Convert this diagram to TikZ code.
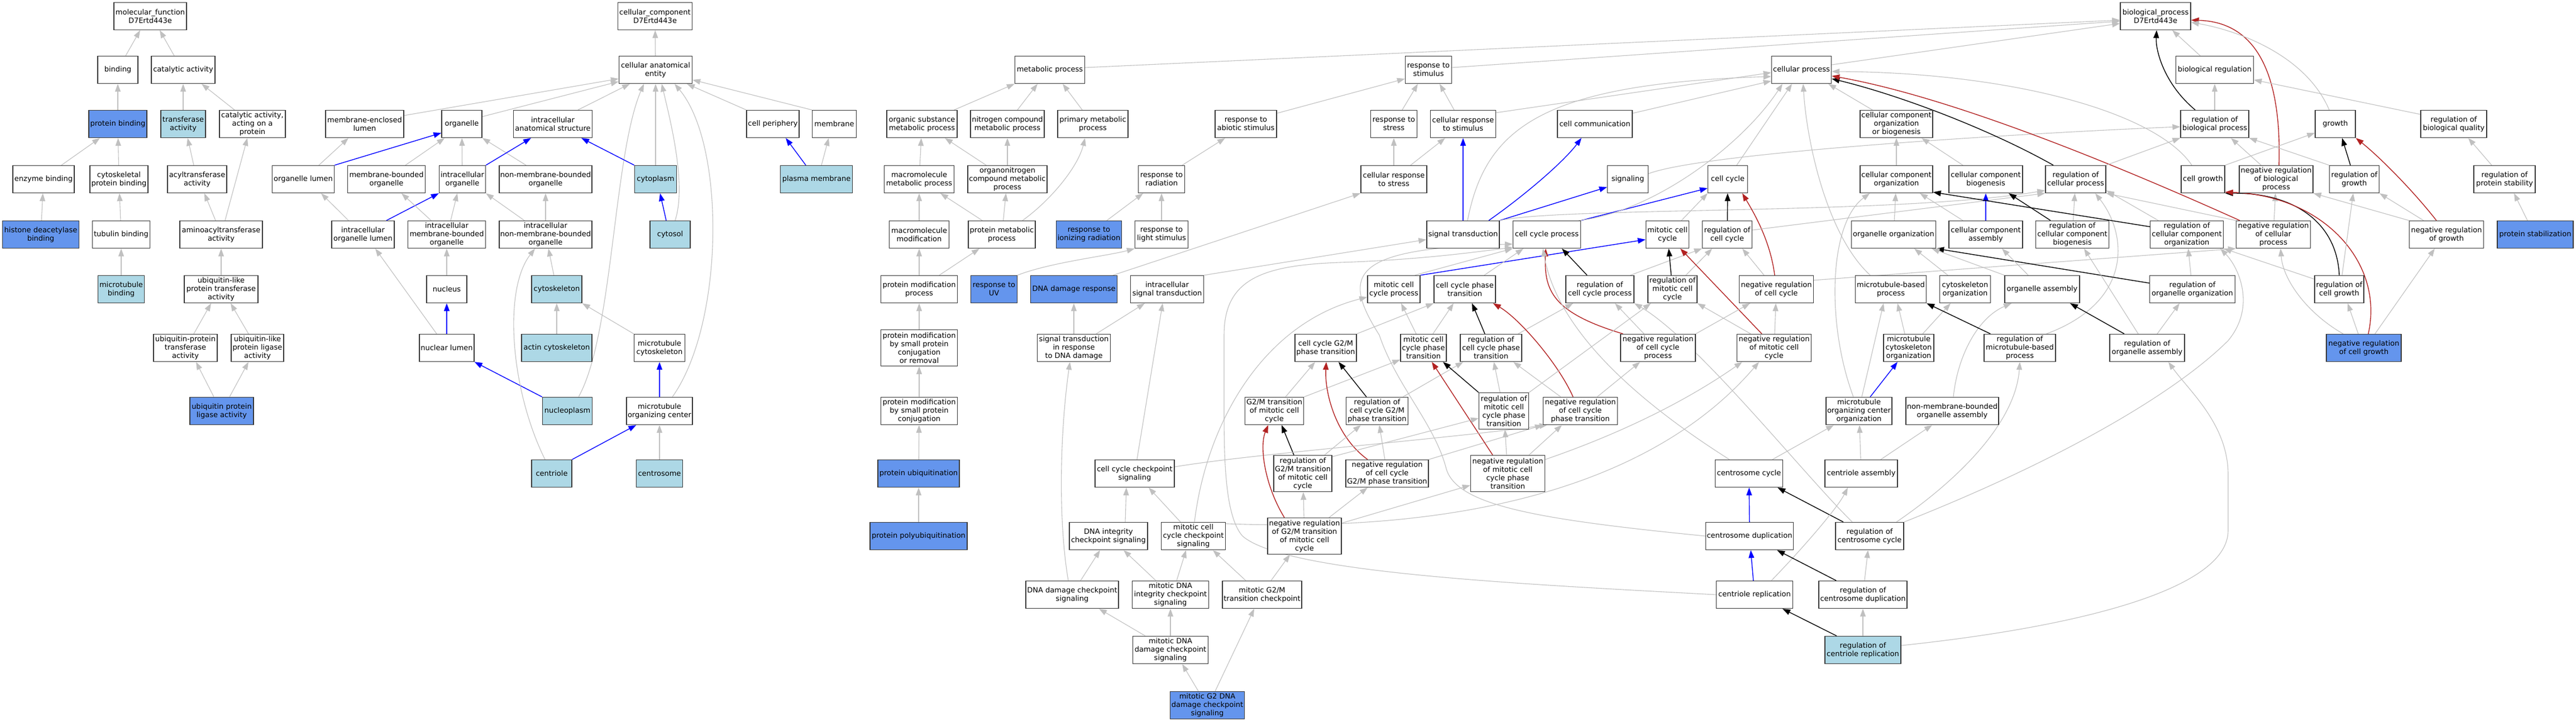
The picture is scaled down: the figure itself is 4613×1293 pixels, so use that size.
\documentclass[tikz,border=0pt]{standalone}
\usepackage{fontspec}
\setmainfont{DejaVu Sans}
\usetikzlibrary{arrows.meta}
\definecolor{egray}{RGB}{192,192,192}
\definecolor{lbfill}{RGB}{173,216,230}
\definecolor{cbfill}{RGB}{100,149,237}
\definecolor{fred}{RGB}{178,34,34}
\definecolor{nborder}{RGB}{55,55,55}
\pgfdeclarelayer{bgl}
\pgfdeclarelayer{edl}
\pgfsetlayers{bgl,edl,main}
\tikzset{
 nd/.style={draw=nborder, line width=1.3pt, fill=white, minimum height=49pt, inner xsep=2pt, inner ysep=1.5pt, align=center, font=\fontsize{13}{15}\selectfont},
 lbn/.style={nd, fill=lbfill},
 cbn/.style={nd, fill=cbfill},
 tallnd/.style={minimum height=65pt},
 ahd/.style={-{Triangle[length=14pt,width=10pt]}},
 egr/.style={draw=egray, line width=1.1pt, ahd},
 eblu/.style={draw=blue, line width=1.4pt, ahd},
 eblk/.style={draw=black, line width=1.4pt, ahd},
 ered/.style={draw=fred, line width=1.4pt, ahd}
}
\begin{document}
\begin{tikzpicture}[x=1pt,y=-1pt]
\useasboundingbox (0,0) rectangle (4613,1293);
\begin{pgfonlayer}{bgl}
\fill[white] (0,0) rectangle (4613,1293);
\end{pgfonlayer}
% ---------- row 0
\node[nd,minimum width=130pt] (mf) at (269,29) {molecular\_function\\D7Ertd443e};
\node[nd,minimum width=133pt] (cc) at (1173,29) {cellular\_component\\D7Ertd443e};
\node[nd,minimum width=126pt] (bp) at (3860,29) {biological\_process\\D7Ertd443e};
% ---------- row 1
\node[nd,minimum width=72pt] (binding) at (211,125) {binding};
\node[nd,minimum width=114pt] (catact) at (328,125) {catalytic activity};
\node[nd,minimum width=131pt] (cae) at (1174,125) {cellular anatomical\\entity};
\node[nd,minimum width=125pt] (metab) at (1880,125) {metabolic process};
\node[nd,minimum width=83pt] (respstim) at (2558,125) {response to\\stimulus};
\node[nd,minimum width=107pt] (cellproc) at (3226,125) {cellular process};
\node[nd,minimum width=139pt] (bioreg) at (3966,125) {biological regulation};
% ---------- row 2
\node[cbn,minimum width=104pt] (protbind) at (211,222) {protein binding};
\node[lbn,minimum width=80pt] (transf) at (328,222) {transferase\\activity};
\node[nd,minimum width=118pt] (catprot) at (452,222) {catalytic activity,\\acting on a\\protein};
\node[nd,minimum width=140pt] (memlumen) at (653,222) {membrane-enclosed\\lumen};
\node[nd,minimum width=72pt] (organelle) at (827,222) {organelle};
\node[nd,minimum width=141pt] (intraanat) at (990,222) {intracellular\\anatomical structure};
\node[nd,minimum width=94pt] (cellper) at (1384,222) {cell periphery};
\node[nd,minimum width=79pt] (membrane) at (1494,222) {membrane};
\node[nd,minimum width=126pt] (orgsub) at (1651,222) {organic substance\\metabolic process};
\node[nd,minimum width=132pt] (nitro) at (1804,222) {nitrogen compound\\metabolic process};
\node[nd,minimum width=126pt] (primary) at (1957,222) {primary metabolic\\process};
\node[nd,minimum width=110pt] (abiotic) at (2231,222) {response to\\abiotic stimulus};
\node[nd,minimum width=83pt] (respstress) at (2496,222) {response to\\stress};
\node[nd,minimum width=117pt] (cellrespstim) at (2620,222) {cellular response\\to stimulus};
\node[nd,minimum width=134pt] (cellcomm) at (2856,222) {cell communication};
\node[nd,minimum width=130pt] (ccob) at (3396,222) {cellular component\\organization\\or biogenesis};
\node[nd,minimum width=122pt] (regbio) at (3966,222) {regulation of\\biological process};
\node[nd,minimum width=72pt] (growth) at (4182,222) {growth};
\node[nd,minimum width=118pt] (regbioqual) at (4394,222) {regulation of\\biological quality};
% ---------- row 3
\node[nd,minimum width=110pt] (enzbind) at (78,321) {enzyme binding};
\node[nd,minimum width=104pt] (cytoprotbind) at (213,321) {cytoskeletal\\protein binding};
\node[nd,minimum width=106pt] (acyl) at (353,321) {acyltransferase\\activity};
\node[nd,minimum width=111pt] (orglumen) at (543,321) {organelle lumen};
\node[nd,minimum width=139pt] (mbo) at (692,321) {membrane-bounded\\organelle};
\node[nd,minimum width=83pt] (intraorg) at (828,321) {intracellular\\organelle};
\node[nd,minimum width=166pt] (nmbo) at (977,321) {non-membrane-bounded\\organelle};
\node[lbn,minimum width=75pt] (cytoplasm) at (1174,321) {cytoplasm};
\node[lbn,minimum width=129pt] (plasmamem) at (1462,321) {plasma membrane};
\node[nd,minimum width=125pt] (macromet) at (1646,321) {macromolecule\\metabolic process};
\node[nd,minimum width=142pt] (orgnitro) at (1804,321) {organonitrogen\\compound metabolic\\process};
\node[nd,minimum width=83pt] (radiation) at (2080,321) {response to\\radiation};
\node[nd,minimum width=118pt] (cellrespstress) at (2496,321) {cellular response\\to stress};
\node[nd,minimum width=73pt] (signaling) at (2915,321) {signaling};
\node[nd,minimum width=71pt] (cellcycle) at (3094,321) {cell cycle};
\node[nd,minimum width=130pt] (cco) at (3396,321) {cellular component\\organization};
\node[nd,minimum width=132pt] (ccbio) at (3556,321) {cellular component\\biogenesis};
\node[nd,minimum width=108pt] (regcellproc) at (3717,321) {regulation of\\cellular process};
\node[nd,minimum width=78pt] (cellgrowth) at (3945,321) {cell growth};
\node[nd,minimum width=132pt] (negregbio) at (4076,321) {negative regulation\\of biological\\process};
\node[nd,minimum width=89pt] (reggrowth) at (4216,321) {regulation of\\growth};
\node[nd,minimum width=110pt] (regprotstab) at (4485,321) {regulation of\\protein stability};
% ---------- row 4
\node[cbn,minimum width=137pt] (histone) at (73,420) {histone deacetylase\\binding};
\node[nd,minimum width=103pt] (tubbind) at (217,420) {tubulin binding};
\node[nd,minimum width=148pt] (aminoacyl) at (396,420) {aminoacyltransferase\\activity};
\node[nd,minimum width=112pt] (intraorglumen) at (650,420) {intracellular\\organelle lumen};
\node[nd,minimum width=139pt] (imbo) at (800,420) {intracellular\\membrane-bounded\\organelle};
\node[nd,minimum width=166pt] (inmbo) at (977,420) {intracellular\\non-membrane-bounded\\organelle};
\node[lbn,minimum width=72pt] (cytosol) at (1200,420) {cytosol};
\node[nd,minimum width=107pt] (macromod) at (1646,420) {macromolecule\\modification};
\node[nd,minimum width=120pt] (protmet) at (1794,420) {protein metabolic\\process};
\node[cbn,minimum width=117pt] (ionizing) at (1950,420) {response to\\ionizing radiation};
\node[nd,minimum width=95pt] (light) at (2080,420) {response to\\light stimulus};
\node[nd,minimum width=130pt] (sigtrans) at (2620,420) {signal transduction};
\node[nd,minimum width=121pt] (ccproc) at (2770,420) {cell cycle process};
\node[nd,minimum width=77pt] (mitcc) at (2986,420) {mitotic cell\\cycle};
\node[nd,minimum width=89pt] (regcc) at (3093,420) {regulation of\\cell cycle};
\node[nd,minimum width=151pt] (orgorg) at (3391,420) {organelle organization};
\node[nd,minimum width=132pt] (ccassem) at (3556,420) {cellular component\\assembly};
\node[nd,minimum width=131pt] (regccbio) at (3711,420) {regulation of\\cellular component\\biogenesis};
\node[nd,minimum width=131pt] (regcco) at (3916,420) {regulation of\\cellular component\\organization};
\node[nd,minimum width=133pt] (negregcell) at (4071,420) {negative regulation\\of cellular\\process};
\node[nd,minimum width=133pt] (negreggrowth) at (4381,420) {negative regulation\\of growth};
\node[cbn,minimum width=136pt] (protstab) at (4540,420) {protein stabilization};
% ---------- row 5
\node[lbn,minimum width=83pt] (mtbind) at (217,518) {microtubule\\binding};
\node[nd,minimum width=132pt] (ublptrans) at (396,518) {ubiquitin-like\\protein transferase\\activity};
\node[nd,minimum width=72pt] (nucleus) at (800,518) {nucleus};
\node[lbn,minimum width=90pt] (cytoskel) at (997,518) {cytoskeleton};
\node[nd,minimum width=137pt] (protmodproc) at (1646,518) {protein modification\\process};
\node[cbn,minimum width=83pt] (uv) at (1780,518) {response to\\UV};
\node[cbn,minimum width=155pt] (dnadam) at (1923,518) {DNA damage response};
\node[nd,minimum width=131pt] (intrasig) at (2090,518) {intracellular\\signal transduction};
\node[nd,minimum width=94pt] (mitccproc) at (2496,518) {mitotic cell\\cycle process};
\node[nd,minimum width=110pt] (ccphase) at (2623,518) {cell cycle phase\\transition};
\node[nd,minimum width=122pt] (regccproc) at (2865,518) {regulation of\\cell cycle process};
\node[nd,minimum width=88pt] (regmitcc) at (2995,518) {regulation of\\mitotic cell\\cycle};
\node[nd,minimum width=133pt] (negregcc) at (3181,518) {negative regulation\\of cell cycle};
\node[nd,minimum width=127pt] (mtbased) at (3386,518) {microtubule-based\\process};
\node[nd,minimum width=91pt] (cytoskelorg) at (3519,518) {cytoskeleton\\organization};
\node[nd,minimum width=134pt] (orgassem) at (3657,518) {organelle assembly};
\node[nd,minimum width=153pt] (regorgorg) at (3926,518) {regulation of\\organelle organization};
\node[nd,minimum width=88pt] (regcellgrowth) at (4189,518) {regulation of\\cell growth};
% ---------- row 6
\node[nd,minimum width=114pt] (ubprottrans) at (332,623) {ubiquitin-protein\\transferase\\activity};
\node[nd,minimum width=94pt] (ubligase) at (461,623) {ubiquitin-like\\protein ligase\\activity};
\node[nd,minimum width=98pt] (nuclumen) at (800,623) {nuclear lumen};
\node[lbn,minimum width=126pt] (actin) at (997,623) {actin cytoskeleton};
\node[nd,minimum width=91pt] (mtcyto) at (1181,623) {microtubule\\cytoskeleton};
\node[nd,tallnd,minimum width=137pt] (protmodsmall) at (1646,623) {protein modification\\by small protein\\conjugation\\or removal};
\node[nd,minimum width=131pt] (sigdna) at (1923,623) {signal transduction\\in response\\to DNA damage};
\node[nd,minimum width=110pt] (g2mphase) at (2374,623) {cell cycle G2/M\\phase transition};
\node[nd,minimum width=82pt] (mitccphase) at (2549,623) {mitotic cell\\cycle phase\\transition};
\node[nd,minimum width=110pt] (regccphase) at (2670,623) {regulation of\\cell cycle phase\\transition};
\node[nd,minimum width=134pt] (negregccproc) at (2969,623) {negative regulation\\of cell cycle\\process};
\node[nd,minimum width=133pt] (negregmitcc) at (3177,623) {negative regulation\\of mitotic cell\\cycle};
\node[nd,minimum width=90pt] (mtcytoorg) at (3418,623) {microtubule\\cytoskeleton\\organization};
\node[nd,minimum width=128pt] (regmtbased) at (3617,623) {regulation of\\microtubule-based\\process};
\node[nd,minimum width=134pt] (regorgassem) at (3845,623) {regulation of\\organelle assembly};
\node[cbn,minimum width=134pt] (negregcellgrowth) at (4233,623) {negative regulation\\of cell growth};
% ---------- row 7
\node[cbn,minimum width=114pt] (ubprotligase) at (397,736) {ubiquitin protein\\ligase activity};
\node[lbn,minimum width=89pt] (nucleoplasm) at (1016,736) {nucleoplasm};
\node[nd,minimum width=118pt] (mtoc) at (1181,736) {microtubule\\organizing center};
\node[nd,minimum width=137pt] (protmodconj) at (1646,736) {protein modification\\by small protein\\conjugation};
\node[nd,minimum width=105pt] (g2mmit) at (2282,736) {G2/M transition\\of mitotic cell\\cycle};
\node[nd,minimum width=111pt] (regccg2m) at (2466,736) {regulation of\\cell cycle G2/M\\phase transition};
\node[nd,tallnd,minimum width=89pt] (regmitccphase) at (2693,736) {regulation of\\mitotic cell\\cycle phase\\transition};
\node[nd,minimum width=133pt] (negregccphase) at (2830,736) {negative regulation\\of cell cycle\\phase transition};
\node[nd,minimum width=118pt] (mtocorg) at (3329,736) {microtubule\\organizing center\\organization};
\node[nd,minimum width=166pt] (nmboassem) at (3496,736) {non-membrane-bounded\\organelle assembly};
% ---------- row 8
\node[lbn,minimum width=72pt] (centriole) at (988,848) {centriole};
\node[lbn,minimum width=83pt] (centrosome) at (1181,848) {centrosome};
\node[cbn,minimum width=146pt] (protubiq) at (1645,848) {protein ubiquitination};
\node[nd,minimum width=142pt] (ccchk) at (2032,848) {cell cycle checkpoint\\signaling};
\node[nd,tallnd,minimum width=104pt] (regg2mmit) at (2333,848) {regulation of\\G2/M transition\\of mitotic cell\\cycle};
\node[nd,minimum width=148pt] (negregccg2m) at (2484,848) {negative regulation\\of cell cycle\\G2/M phase transition};
\node[nd,tallnd,minimum width=133pt] (negregmitccphase) at (2700,848) {negative regulation\\of mitotic cell\\cycle phase\\transition};
\node[nd,minimum width=121pt] (centcycle) at (3132,848) {centrosome cycle};
\node[nd,minimum width=130pt] (centassem) at (3333,848) {centriole assembly};
% ---------- row 9
\node[cbn,minimum width=174pt] (polyubiq) at (1645,960) {protein polyubiquitination};
\node[nd,minimum width=140pt] (dnaintchk) at (1985,960) {DNA integrity\\checkpoint signaling};
\node[nd,minimum width=115pt] (mitccchk) at (2137,960) {mitotic cell\\cycle checkpoint\\signaling};
\node[nd,tallnd,minimum width=132pt] (negregg2mmit) at (2336,960) {negative regulation\\of G2/M transition\\of mitotic cell\\cycle};
\node[nd,minimum width=157pt] (centdup) at (3133,960) {centrosome duplication};
\node[nd,minimum width=122pt] (regcentcycle) at (3348,960) {regulation of\\centrosome cycle};
% ---------- row 10
\node[nd,minimum width=166pt] (dnadamchk) at (1920,1065) {DNA damage checkpoint\\signaling};
\node[nd,minimum width=137pt] (mitdnaintchk) at (2096,1065) {mitotic DNA\\integrity checkpoint\\signaling};
\node[nd,minimum width=142pt] (mitg2mchk) at (2260,1065) {mitotic G2/M\\transition checkpoint};
\node[nd,minimum width=137pt] (centrep) at (3142,1065) {centriole replication};
\node[nd,minimum width=158pt] (regcentdup) at (3336,1065) {regulation of\\centrosome duplication};
% ---------- row 11
\node[nd,minimum width=135pt] (mitdnadamchk) at (2096,1164) {mitotic DNA\\damage checkpoint\\signaling};
\node[lbn,minimum width=136pt] (regcentrep) at (3336,1164) {regulation of\\centriole replication};
% ---------- row 12
\node[cbn,minimum width=133pt] (mitg2dnadam) at (2162,1263) {mitotic G2 DNA\\damage checkpoint\\signaling};

\begin{pgfonlayer}{edl}
% ===== molecular function
\draw[egr] ([xshift=14pt]binding.north) -- ([xshift=-18pt]mf.south);
\draw[egr] ([xshift=-16pt]catact.north) -- ([xshift=17pt]mf.south);
\draw[egr] (protbind) -- (binding);
\draw[egr] (transf) -- (catact);
\draw[egr] ([xshift=-32pt]catprot.north) -- ([xshift=33pt]catact.south);
\draw[egr] ([xshift=32pt]enzbind.north) -- ([xshift=-32pt]protbind.south);
\draw[egr] (cytoprotbind) -- (protbind);
\draw[egr] ([xshift=-6pt]acyl.north) -- ([xshift=8pt]transf.south);
\draw[egr] (histone) -- (enzbind);
\draw[egr] (tubbind) -- (cytoprotbind);
\draw[egr] ([xshift=-10pt]aminoacyl.north) -- ([xshift=13pt]acyl.south);
\draw[egr] ([xshift=7pt]aminoacyl.north) -- ([xshift=-9pt]catprot.south);
\draw[egr] (mtbind) -- (tubbind);
\draw[egr] (ublptrans) -- (aminoacyl);
\draw[egr] ([xshift=15pt]ubprottrans.north) -- ([xshift=-18pt]ublptrans.south);
\draw[egr] ([xshift=-16pt]ubligase.north) -- ([xshift=17pt]ublptrans.south);
\draw[egr] ([xshift=-14pt]ubprotligase.north) -- ([xshift=19pt]ubprottrans.south);
\draw[egr] ([xshift=14pt]ubprotligase.north) -- ([xshift=-16pt]ubligase.south);
% ===== cellular component
\draw[egr] (cae) -- (cc);
\draw[egr] ([yshift=-10pt]memlumen.north east) -- ([yshift=-16pt]cae.west);
\draw[egr] ([yshift=-12pt]organelle.north east) -- ([yshift=-21pt]cae.west);
\draw[egr] ([xshift=45pt]intraanat.north) -- ([xshift=-46pt]cae.south);
\draw[egr] (cytoplasm) -- (cae);
\draw[egr] (cellper.north west) -- ([xshift=56pt]cae.south);
\draw[egr] (membrane.north west) -- ([yshift=-18pt]cae.east);
\draw[egr] ([xshift=9pt]cytosol.north) .. controls (1230,330) and (1200,215) .. ([xshift=11pt]cae.south);
\draw[egr] ([xshift=20pt]nucleoplasm.north) .. controls (1098,600) and (1098,280) .. ([xshift=-21pt]cae.south);
\draw[egr] ([xshift=23pt]mtoc.north) .. controls (1297,580) and (1300,260) .. ([xshift=34pt]cae.south);
\draw[egr] ([xshift=28pt]orglumen.north) -- ([xshift=-29pt]memlumen.south);
\draw[eblu] (orglumen.north east) -- ([yshift=-16pt]organelle.west);
\draw[egr] ([xshift=34pt]mbo.north) -- ([xshift=6pt]organelle.south west);
\draw[egr] (intraorg) -- (organelle);
\draw[egr] ([xshift=-35pt]nmbo.north) -- (organelle.south east);
\draw[eblu] (intraorg.north east) -- ([xshift=-39pt]intraanat.south);
\draw[eblu] (cytoplasm.north west) -- ([xshift=51pt]intraanat.south);
\draw[eblu] ([xshift=-19pt]plasmamem.north) -- ([xshift=23pt]cellper.south);
\draw[egr] ([xshift=9pt]plasmamem.north) -- ([xshift=-10pt]membrane.south);
\draw[egr] ([xshift=-26pt]intraorglumen.north) -- ([xshift=32pt]orglumen.south);
\draw[eblu] ([xshift=42pt]intraorglumen.north) -- (intraorg.south west);
\draw[egr] ([xshift=-28pt]imbo.north) -- ([xshift=27pt]mbo.south);
\draw[egr] ([xshift=7pt]imbo.north) -- ([xshift=-9pt]intraorg.south);
\draw[egr] ([xshift=-38pt]inmbo.north) -- (intraorg.south east);
\draw[egr] (inmbo) -- (nmbo);
\draw[eblu] ([xshift=-7pt]cytosol.north) -- ([xshift=8pt]cytoplasm.south);
\draw[egr] (nucleus) -- (imbo);
\draw[egr] (cytoskel) -- (inmbo);
\draw[eblu] (nuclumen) -- (nucleus);
\draw[egr] ([xshift=-18pt]nuclumen.north) -- ([xshift=22pt]intraorglumen.south);
\draw[egr] (actin) -- (cytoskel);
\draw[egr] (mtcyto.north west) -- (cytoskel.south east);
\draw[eblu] (nucleoplasm.north west) -- (nuclumen.south east);
\draw[eblu] (mtoc) -- (mtcyto);
\draw[eblu] (centriole.north east) -- ([xshift=18pt]mtoc.south west);
\draw[egr] (centrosome) -- (mtoc);
\draw[egr] ([xshift=-12pt]centriole.north) .. controls (915,700) and (900,520) .. ([xshift=-19pt]inmbo.south);
% ===== metabolic
\draw[egr] ([yshift=4pt]metab.east) -- ([yshift=-7pt]bp.west);
\draw[egr] ([xshift=-6pt]orgsub.north east) -- (metab.south west);
\draw[egr] ([xshift=18pt]nitro.north) -- ([xshift=-22pt]metab.south);
\draw[egr] ([xshift=-19pt]primary.north) -- ([xshift=23pt]metab.south);
\draw[egr] (macromet) -- (orgsub);
\draw[egr] ([xshift=-38pt]orgnitro.north) -- ([xshift=41pt]orgsub.south);
\draw[egr] (orgnitro) -- (nitro);
\draw[egr] (macromod) -- (macromet);
\draw[egr] ([xshift=-35pt]protmet.north) -- ([xshift=38pt]macromet.south);
\draw[egr] (protmet) -- (orgnitro);
\draw[egr] ([xshift=37pt]protmet.north) .. controls (1880,360) and (1930,300) .. ([xshift=-14pt]primary.south);
\draw[egr] (protmodproc) -- (macromod);
\draw[egr] ([xshift=36pt]protmodproc.north) -- ([xshift=-40pt]protmet.south);
\draw[egr] (protmodsmall) -- (protmodproc);
\draw[egr] (protmodconj) -- (protmodsmall);
\draw[egr] (protubiq) -- (protmodconj);
\draw[egr] (polyubiq) -- (protubiq);
% ===== stimulus
\draw[egr] ([yshift=4pt]respstim.east) -- ([yshift=-9pt]bp.west);
\draw[egr] ([yshift=-6pt]abiotic.north east) -- ([yshift=-16pt]respstim.west);
\draw[egr] ([xshift=15pt]respstress.north) -- ([xshift=-19pt]respstim.south);
\draw[egr] ([xshift=-16pt]cellrespstim.north) -- ([xshift=20pt]respstim.south);
\draw[egr] ([yshift=-5pt]cellrespstim.north east) -- ([yshift=-5pt]cellproc.west);
\draw[egr] ([xshift=37pt]radiation.north) -- ([xshift=-37pt]abiotic.south);
\draw[egr] (cellrespstress) -- (respstress);
\draw[egr] ([xshift=30pt]cellrespstress.north) -- ([xshift=-32pt]cellrespstim.south);
\draw[egr] ([xshift=32pt]ionizing.north) -- ([xshift=-33pt]radiation.south);
\draw[egr] (light) -- (radiation);
\draw[egr] (uv.north east) .. controls (1880,470) and (1985,458) .. (light.south west);
\draw[egr] ([xshift=-8pt]dnadam.north east) -- (cellrespstress.south west);
\draw[egr] (sigdna) -- (dnadam);
\draw[egr] ([xshift=40pt]sigdna.north) -- ([xshift=-40pt]intrasig.south);
\draw[egr] (intrasig.north east) -- ([yshift=-9pt]sigtrans.west);
\draw[egr] ([xshift=4pt]ccchk.north) -- ([xshift=-8pt]intrasig.south);
\draw[egr] ([xshift=-7pt]dnadamchk.north) .. controls (1893,920) and (1900,760) .. ([xshift=-7pt]sigdna.south);
% ===== signalling
\draw[eblu] (sigtrans) -- (cellrespstim);
\draw[eblu] ([xshift=46pt]sigtrans.north) .. controls (2730,350) and (2800,290) .. ([xshift=-24pt]cellcomm.south);
\draw[eblu] (sigtrans.north east) -- ([yshift=-14pt]signaling.west);
\draw[egr] ([xshift=8pt]sigtrans.north) .. controls (2660,230) and (2760,150) .. ([yshift=-12pt]cellproc.west);
\draw[egr] (sigtrans.north east) .. controls (2800,370) and (3400,385) .. ([yshift=-20pt]regcellproc.west);
\draw[egr] ([yshift=-6pt]cellcomm.north east) -- ([yshift=-20pt]cellproc.west);
\draw[egr] ([yshift=10pt]signaling.east) .. controls (3060,270) and (3700,235) .. ([yshift=-5pt]regbio.west);
% ===== cell cycle
\draw[eblu] (ccproc.north east) -- ([yshift=-16pt]cellcycle.west);
\draw[egr] ([xshift=-4pt]ccproc.north east) .. controls (2960,380) and (3120,260) .. ([xshift=-34pt]cellproc.south);
\draw[egr] ([xshift=25pt]mitcc.north) -- (cellcycle.south west);
\draw[eblu] (mitccproc.north east) -- ([yshift=-9pt]mitcc.west);
\draw[egr] ([xshift=-10pt]mitccproc.north east) -- (ccproc.south west);
\draw[egr] ([xshift=35pt]ccphase.north) -- ([xshift=-42pt]ccproc.south);
\draw[eblk] ([xshift=-23pt]regccproc.north) -- ([xshift=27pt]ccproc.south);
\draw[ered] ([xshift=5pt]negregccproc.north west) .. controls (2780,560) and (2765,520) .. ([xshift=-2pt]ccproc.south);
\draw[egr] (centdup.west) .. controls (2750,930) and (2610,905) .. (2590,840) .. controls (2570,760) and (2500,690) .. (2470,600) .. controls (2400,490) and (2420,445) .. ([yshift=8pt]ccproc.south west);
\draw[egr] (centrep.west) .. controls (2700,1045) and (2300,1025) .. (2225,960) .. controls (2190,920) and (2192,800) .. (2192,700) -- (2192,600) .. controls (2192,500) and (2260,475) .. (2400,470) .. controls (2550,465) and (2650,450) .. ([yshift=2pt]ccproc.south west);
\draw[egr] ([xshift=26pt]centcycle.north west) .. controls (2950,730) and (2790,600) .. ([xshift=-7pt]ccproc.south);
\draw[eblk] (regcc) -- (cellcycle);
\draw[ered] ([xshift=-3pt]negregcc.north) .. controls (3170,430) and (3140,380) .. ([xshift=26pt]cellcycle.south);
\draw[egr] ([xshift=-22pt]negregcc.north) -- ([xshift=27pt]regcc.south);
\draw[egr] ([xshift=-7pt]regccproc.north east) -- (regcc.south west);
\draw[egr] ([xshift=24pt]regmitcc.north) -- ([xshift=-27pt]regcc.south);
\draw[eblk] (regmitcc) -- (mitcc);
\draw[ered] ([xshift=-22pt]negregmitcc.north) -- ([xshift=23pt]mitcc.south);
\draw[egr] (negregmitcc) -- (negregcc);
\draw[egr] ([xshift=-42pt]negregmitcc.north) -- (regmitcc.south east);
\draw[egr] ([yshift=8pt]regcc.east) -- (regcellproc.south west);
\draw[egr] ([yshift=-9pt]negregcc.north east) -- (negregcell.south west);
\draw[egr] ([xshift=-25pt]negregccproc.north) -- ([xshift=27pt]regccproc.south);
\draw[egr] (negregccproc.north east) -- ([xshift=20pt]negregcc.south west);
\draw[egr] ([xshift=-7pt]regccphase.north east) -- ([xshift=-48pt]regccproc.south);
\draw[egr] ([xshift=-31pt]regcentcycle.north) .. controls (3230,850) and (3040,610) .. (regccproc.south east);
% ===== phase transitions
\draw[egr] (g2mphase.north east) -- (ccphase.south west);
\draw[egr] ([xshift=17pt]mitccphase.north) -- ([xshift=-20pt]ccphase.south);
\draw[egr] ([xshift=-13pt]mitccphase.north) -- ([xshift=13pt]mitccproc.south);
\draw[eblk] ([xshift=-11pt]regccphase.north) -- ([xshift=13pt]ccphase.south);
\draw[ered] ([xshift=-13pt]negregccphase.north) .. controls (2790,650) and (2720,570) .. ([xshift=-5pt]ccphase.south east);
\draw[egr] ([xshift=20pt]g2mmit.north) -- ([xshift=-19pt]g2mphase.south);
\draw[egr] (g2mmit.north east) -- ([yshift=4pt]mitccphase.south west);
\draw[eblk] ([xshift=-19pt]regccg2m.north) -- ([xshift=23pt]g2mphase.south);
\draw[egr] ([xshift=-10pt]regccg2m.north east) -- ([xshift=6pt]regccphase.south west);
\draw[ered] ([xshift=-35pt]negregccg2m.north) .. controls (2390,780) and (2372,700) .. ([xshift=1pt]g2mphase.south);
\draw[egr] (negregccg2m) -- (regccg2m);
\draw[egr] (negregccg2m.north east) -- (negregccphase.south west);
\draw[eblk] (regmitccphase.north west) -- ([xshift=35pt]mitccphase.south);
\draw[egr] (regmitccphase) -- (regccphase);
\draw[egr] (regmitccphase.north east) -- ([xshift=6pt]regmitcc.south west);
\draw[egr] ([xshift=-35pt]negregccphase.north) -- ([xshift=40pt]regccphase.south);
\draw[egr] ([xshift=30pt]negregccphase.north) -- ([xshift=-32pt]negregccproc.south);
\draw[ered] ([xshift=-27pt]negregmitccphase.north) -- ([xshift=15pt]mitccphase.south);
\draw[egr] (negregmitccphase) -- (regmitccphase);
\draw[egr] ([xshift=38pt]negregmitccphase.north) -- ([xshift=-33pt]negregccphase.south);
\draw[egr] ([yshift=-8pt]negregmitccphase.north east) .. controls (2950,760) and (3060,690) .. ([xshift=10pt]negregmitcc.south west);
\draw[egr] ([yshift=-3pt]mitccchk.north east) .. controls (2760,960) and (3020,800) .. ([xshift=-27pt]negregmitcc.south);
\draw[egr] ([xshift=2pt]mitccchk.north) .. controls (2160,760) and (2260,580) .. ([yshift=-14pt]mitccproc.west);
\draw[eblk] ([xshift=-16pt]regg2mmit.north) -- ([xshift=13pt]g2mmit.south);
\draw[egr] ([xshift=39pt]regg2mmit.north) -- ([xshift=-29pt]regccg2m.south);
\draw[egr] ([yshift=-3pt]regg2mmit.north east) -- ([yshift=-13pt]regmitccphase.west);
\draw[egr] ([yshift=12pt]ccchk.east) .. controls (2250,812) and (2550,790) .. ([xshift=8pt]negregccphase.south west);
\draw[egr] (negregg2mmit) -- (regg2mmit);
\draw[egr] ([xshift=44pt]negregg2mmit.north) -- ([xshift=-35pt]negregccg2m.south);
\draw[egr] ([yshift=-10pt]negregg2mmit.north east) -- ([yshift=-21pt]negregmitccphase.west);
\draw[ered] ([xshift=-36pt]negregg2mmit.north) .. controls (2265,870) and (2255,800) .. ([xshift=-11pt]g2mmit.south);
\draw[egr] ([xshift=16pt]mitg2mchk.north) -- ([xshift=-26pt]negregg2mmit.south);
\draw[egr] ([xshift=-29pt]mitg2mchk.north) -- ([xshift=35pt]mitccchk.south);
% ===== checkpoints
\draw[egr] ([xshift=30pt]dnaintchk.north) -- ([xshift=-15pt]ccchk.south);
\draw[egr] ([xshift=-23pt]mitccchk.north) -- ([xshift=25pt]ccchk.south);
\draw[egr] ([xshift=15pt]dnadamchk.north) -- ([xshift=-15pt]dnaintchk.south);
\draw[egr] ([xshift=-26pt]mitdnaintchk.north) -- ([xshift=27pt]dnaintchk.south);
\draw[egr] ([xshift=11pt]mitdnaintchk.north) -- ([xshift=-13pt]mitccchk.south);
\draw[egr] ([xshift=-45pt]mitdnadamchk.north) -- ([xshift=48pt]dnadamchk.south);
\draw[egr] (mitdnadamchk) -- (mitdnaintchk);
\draw[egr] ([xshift=-16pt]mitg2dnadam.north) -- ([xshift=21pt]mitdnadamchk.south);
\draw[egr] ([xshift=14pt]mitg2dnadam.north) -- ([xshift=-14pt]mitg2mchk.south);
% ===== cellular process block
\draw[egr] ([yshift=9pt]cellproc.east) -- ([yshift=-13pt]bp.west);
\draw[egr] ([xshift=-43pt]ccob.north) -- ([xshift=48pt]cellproc.south);
\draw[egr] ([xshift=16pt]cellcycle.north) -- ([xshift=-17pt]cellproc.south);
\draw[egr] ([xshift=-37pt]mtbased.north) .. controls (3270,420) and (3235,250) .. ([xshift=3pt]cellproc.south);
\draw[eblk] ([xshift=-40pt]regcellproc.north) .. controls (3560,230) and (3400,170) .. ([yshift=-16pt]cellproc.east);
\draw[ered] ([xshift=7pt]negregcell.north west) .. controls (3800,300) and (3500,175) .. ([yshift=-11pt]cellproc.east);
\draw[egr] ([xshift=-20pt]cellgrowth.north) .. controls (3860,200) and (3600,130) .. ([yshift=-3pt]cellproc.east);
\draw[egr] (cco) -- (ccob);
\draw[egr] ([xshift=-41pt]ccbio.north) -- ([xshift=45pt]ccob.south);
\draw[egr] (regcellproc.north east) -- (regbio.south west);
\draw[egr] (orgorg) -- (cco);
\draw[egr] ([xshift=-41pt]ccassem.north) -- ([xshift=42pt]cco.south);
\draw[eblu] (ccassem) -- (ccbio);
\draw[eblk] ([xshift=-39pt]regccbio.north) -- ([xshift=41pt]ccbio.south);
\draw[egr] (regccbio) -- (regcellproc);
\draw[egr] ([xshift=-17pt]regmtbased.north east) .. controls (3820,540) and (3810,420) .. ([xshift=35pt]regcellproc.south);
\draw[egr] (negregcell.north west) -- (regcellproc.south east);
\draw[egr] ([xshift=-51pt]regcco.north) -- ([yshift=-20pt]regcellproc.east);
\draw[eblk] ([yshift=14pt]regcco.west) -- ([yshift=2pt]cco.south east);
\draw[eblk] ([yshift=11pt]regorgorg.west) -- (orgorg.south east);
\draw[egr] ([xshift=-31pt]cytoskelorg.north) -- ([xshift=37pt]orgorg.south);
\draw[egr] (orgassem.north west) -- ([xshift=-8pt]orgorg.south east);
\draw[egr] ([xshift=-25pt]orgassem.north) -- ([xshift=29pt]ccassem.south);
\draw[egr] ([xshift=-16pt]regorgassem.north) -- ([xshift=21pt]regccbio.south);
\draw[eblk] ([xshift=-41pt]regorgassem.north) -- ([xshift=50pt]orgassem.south);
\draw[egr] ([xshift=18pt]regorgassem.north) -- ([xshift=-23pt]regorgorg.south);
\draw[egr] ([xshift=2pt]nmboassem.north) .. controls (3505,640) and (3540,570) .. ([xshift=-55pt]orgassem.south);
\draw[egr] ([xshift=5pt]mtocorg.north) -- ([xshift=-13pt]mtbased.south);
\draw[egr] ([xshift=-7pt]mtcytoorg.north) -- ([xshift=12pt]mtbased.south);
\draw[egr] ([xshift=25pt]mtcytoorg.north) -- ([xshift=-26pt]cytoskelorg.south);
\draw[eblk] ([xshift=12pt]regmtbased.north west) -- (mtbased.south east);
\draw[egr] ([xshift=-10pt]mtocorg.north) .. controls (3270,580) and (3275,400) .. ([xshift=18pt]cco.south west);
\draw[eblu] ([xshift=20pt]mtocorg.north) -- ([xshift=-20pt]mtcytoorg.south);
\draw[egr] ([xshift=42pt]centcycle.north) -- ([xshift=-45pt]mtocorg.south);
\draw[egr] (centassem) -- (mtocorg);
\draw[egr] ([xshift=35pt]centassem.north) -- ([xshift=-36pt]nmboassem.south);
\draw[eblu] (centdup) -- (centcycle);
\draw[eblk] ([xshift=-47pt]regcentcycle.north) -- ([xshift=-10pt]centcycle.south east);
\draw[egr] ([xshift=48pt]regcentcycle.north) .. controls (3520,850) and (3610,750) .. (regmtbased.south);
\draw[egr] (regcentcycle.north east) .. controls (3700,820) and (3900,700) .. (3990,610) .. controls (4040,550) and (4010,480) .. ([xshift=-6pt]regcco.south east);
\draw[eblu] (centrep) -- (centdup);
\draw[egr] ([xshift=30pt]centrep.north) .. controls (3230,980) and (3290,910) .. ([xshift=-24pt]centassem.south);
\draw[eblk] ([xshift=32pt]regcentdup.north west) -- ([xshift=-30pt]centdup.south east);
\draw[egr] (regcentdup) -- (regcentcycle);
\draw[eblk] ([xshift=-47pt]regcentrep.north) -- ([xshift=50pt]centrep.south);
\draw[egr] (regcentrep) -- (regcentdup);
\draw[egr] ([yshift=8pt]regcentrep.east) .. controls (3700,1125) and (3990,1060) .. (3990,950) -- (3990,850) .. controls (3990,760) and (3920,700) .. ([xshift=38pt]regorgassem.south);
% ===== right block
\draw[egr] ([xshift=-26pt]bioreg.north) -- ([xshift=30pt]bp.south);
\draw[eblk] ([xshift=-35pt]regbio.north) .. controls (3875,150) and (3860,90) .. ([xshift=2pt]bp.south);
\draw[egr] (regbio) -- (bioreg);
\draw[ered] ([xshift=5pt]negregbio.north) .. controls (4085,170) and (4060,40) .. ([yshift=-7pt]bp.east);
\draw[egr] ([xshift=-11pt]growth.north) .. controls (4130,100) and (4010,55) .. ([yshift=-11pt]bp.east);
\draw[egr] ([yshift=-8pt]regbioqual.north west) -- ([yshift=-18pt]bioreg.east);
\draw[egr] (cellgrowth.north east) -- ([yshift=-16pt]growth.west);
\draw[egr] ([xshift=-27pt]negregbio.north) -- ([xshift=29pt]regbio.south);
\draw[eblk] ([xshift=-7pt]reggrowth.north) -- ([xshift=12pt]growth.south);
\draw[egr] (reggrowth.north west) -- (regbio.south east);
\draw[egr] ([xshift=-23pt]regprotstab.north) -- ([xshift=26pt]regbioqual.south);
\draw[egr] (negregcell) -- (negregbio);
\draw[egr] (negreggrowth.north west) -- (negregbio.south east);
\draw[egr] ([xshift=-41pt]negreggrowth.north) -- (reggrowth.south east);
\draw[ered] ([xshift=-18pt]negreggrowth.north) .. controls (4320,340) and (4260,280) .. (growth.south east);
\draw[egr] ([xshift=-14pt]protstab.north) -- ([xshift=17pt]regprotstab.south);
\draw[egr] (regorgorg) -- (regcco);
\draw[eblk] (regcellgrowth.north) .. controls (4185,400) and (4110,345) .. (cellgrowth.south east);
\draw[ered] ([xshift=8pt]negregcellgrowth.north) .. controls (4270,470) and (4160,350) .. ([yshift=2pt]cellgrowth.south east);
\draw[egr] ([xshift=-10pt]negregcellgrowth.north) -- ([xshift=15pt]regcellgrowth.south);
\draw[egr] ([xshift=20pt]negregcellgrowth.north) -- ([xshift=-21pt]negreggrowth.south);
\draw[egr] ([xshift=-37pt]negregcellgrowth.north) .. controls (4130,560) and (4088,500) .. ([xshift=13pt]negregcell.south);
\draw[egr] ([xshift=5pt]regcellgrowth.north) -- ([xshift=-2pt]reggrowth.south);
\draw[egr] ([yshift=-7pt]regcellgrowth.north west) -- (regcco.south east);
\end{pgfonlayer}
\end{tikzpicture}
\end{document}
